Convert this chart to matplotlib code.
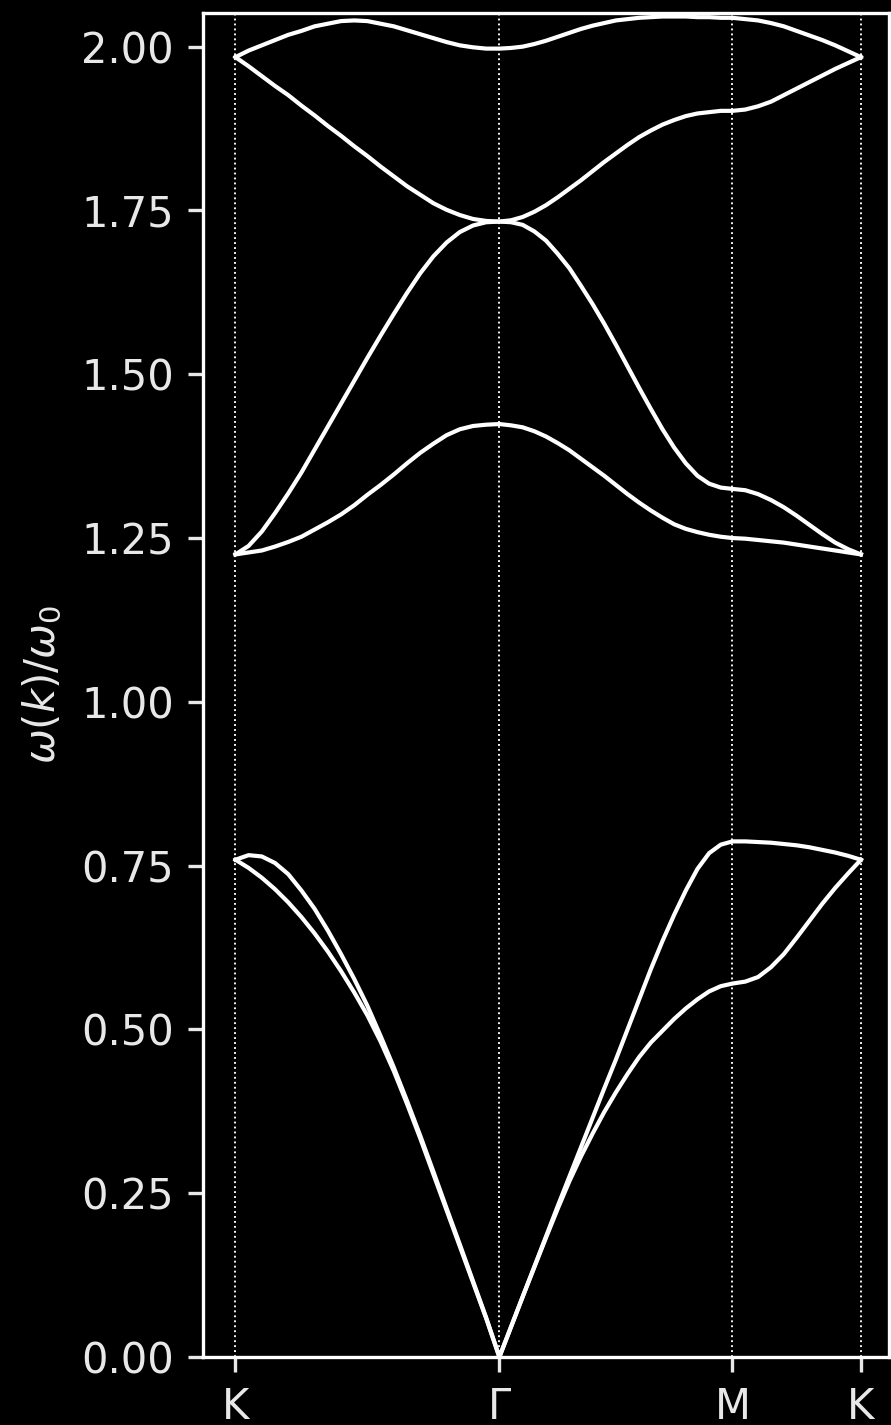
import matplotlib
matplotlib.use("Agg")
import matplotlib.pyplot as plt
import numpy as np

# high symmetry points along the path (k-path distance)
sym_labels = ["K", "Γ", "M", "K"]
sym_pos = [0.0, 1.333, 2.510, 3.159]

# sample fractions along each segment
t_kg = np.linspace(0, 1, 21)   # K -> Γ
t_gm = np.linspace(0, 1, 21)   # Γ -> M
t_mk = np.linspace(0, 1, 11)   # M -> K

# bands, sorted by energy (K->Γ, Γ->M, M->K)
band1_kg = [0.759, 0.7465, 0.7315, 0.714, 0.694, 0.6715, 0.6465, 0.619, 0.589, 0.5565, 0.5215,
            0.4815, 0.4365, 0.3865, 0.334, 0.279, 0.224, 0.169, 0.114, 0.059, 0.0]
band1_gm = [0.0, 0.046, 0.092, 0.137, 0.182, 0.226, 0.268, 0.306, 0.341, 0.374, 0.404,
            0.432, 0.458, 0.480, 0.498, 0.516, 0.532, 0.546, 0.558, 0.566, 0.570]
band1_mk = [0.570, 0.573, 0.580, 0.595, 0.615, 0.640, 0.666, 0.692, 0.716, 0.738, 0.759]

band2_kg = [0.759, 0.766, 0.764, 0.754, 0.737, 0.712, 0.684, 0.651, 0.615, 0.577, 0.536,
            0.490, 0.442, 0.391, 0.338, 0.283, 0.227, 0.172, 0.116, 0.060, 0.0]
band2_gm = [0.0, 0.046, 0.092, 0.138, 0.184, 0.230, 0.275, 0.320, 0.365, 0.410, 0.454,
            0.500, 0.546, 0.592, 0.635, 0.675, 0.712, 0.745, 0.769, 0.782, 0.787]
band2_mk = [0.787, 0.787, 0.786, 0.785, 0.783, 0.781, 0.778, 0.774, 0.770, 0.765, 0.759]

band3_kg = [1.225, 1.228, 1.231, 1.237, 1.244, 1.252, 1.263, 1.274, 1.286, 1.300, 1.316,
            1.331, 1.347, 1.364, 1.380, 1.394, 1.407, 1.416, 1.421, 1.423, 1.424]
band3_gm = [1.424, 1.422, 1.419, 1.413, 1.405, 1.395, 1.384, 1.371, 1.358, 1.345, 1.331,
            1.317, 1.304, 1.292, 1.281, 1.271, 1.264, 1.259, 1.255, 1.252, 1.250]
band3_mk = [1.250, 1.249, 1.247, 1.245, 1.243, 1.240, 1.237, 1.234, 1.231, 1.228, 1.225]

band4_kg = [1.225, 1.238, 1.260, 1.288, 1.318, 1.350, 1.385, 1.420, 1.455, 1.490, 1.525,
            1.559, 1.592, 1.624, 1.654, 1.680, 1.701, 1.717, 1.727, 1.732, 1.733]
band4_gm = [1.733, 1.732, 1.728, 1.718, 1.704, 1.684, 1.662, 1.635, 1.607, 1.577, 1.545,
            1.512, 1.479, 1.447, 1.416, 1.388, 1.364, 1.345, 1.333, 1.327, 1.325]
band4_mk = [1.325, 1.323, 1.317, 1.308, 1.297, 1.284, 1.270, 1.256, 1.243, 1.233, 1.225]

band5_kg = [1.984, 1.970, 1.955, 1.940, 1.926, 1.910, 1.895, 1.879, 1.864, 1.848, 1.833,
            1.817, 1.802, 1.787, 1.774, 1.761, 1.751, 1.743, 1.737, 1.734, 1.733]
band5_gm = [1.733, 1.735, 1.740, 1.748, 1.758, 1.770, 1.783, 1.796, 1.810, 1.824, 1.837,
            1.850, 1.862, 1.872, 1.881, 1.888, 1.894, 1.898, 1.900, 1.902, 1.902]
band5_mk = [1.902, 1.904, 1.909, 1.916, 1.926, 1.936, 1.946, 1.956, 1.966, 1.975, 1.984]

band6_kg = [1.984, 1.994, 2.002, 2.010, 2.018, 2.024, 2.031, 2.035, 2.039, 2.040, 2.039,
            2.035, 2.031, 2.025, 2.019, 2.013, 2.007, 2.002, 1.999, 1.997, 1.997]
band6_gm = [1.997, 1.998, 2.000, 2.004, 2.009, 2.015, 2.021, 2.027, 2.032, 2.036, 2.040,
            2.042, 2.044, 2.045, 2.046, 2.046, 2.046, 2.045, 2.045, 2.044, 2.044]
band6_mk = [2.044, 2.042, 2.040, 2.036, 2.031, 2.024, 2.017, 2.010, 2.002, 1.993, 1.984]

bands = [
    (band1_kg, band1_gm, band1_mk),
    (band2_kg, band2_gm, band2_mk),
    (band3_kg, band3_gm, band3_mk),
    (band4_kg, band4_gm, band4_mk),
    (band5_kg, band5_gm, band5_mk),
    (band6_kg, band6_gm, band6_mk),
]

k_kg = sym_pos[0] + t_kg * (sym_pos[1] - sym_pos[0])
k_gm = sym_pos[1] + t_gm * (sym_pos[2] - sym_pos[1])
k_mk = sym_pos[2] + t_mk * (sym_pos[3] - sym_pos[2])
k = np.concatenate([k_kg, k_gm[1:], k_mk[1:]])

plt.style.use("dark_background")
fig = plt.figure(figsize=(2.97, 4.75), dpi=300)
ax = fig.add_axes([0.2278, 0.0477, 0.77, 0.9432])

for kg, gm, mk in bands:
    w = np.concatenate([kg, gm[1:], mk[1:]])
    ax.plot(k, w, color="white", lw=1.0, solid_joinstyle="round")

for p in sym_pos:
    ax.axvline(p, color="white", ls=":", lw=0.45)

ax.set_xticks(sym_pos)
ax.set_xticklabels(sym_labels)
ax.set_yticks(np.arange(0, 2.01, 0.25))
ax.set_yticklabels(["%.2f" % v for v in np.arange(0, 2.01, 0.25)])
ax.tick_params(colors="#e8e8e8")
ax.set_xlim(-0.164, 3.301)
ax.set_ylim(0, 2.0514)
ax.set_ylabel(r"$\omega(k)/\omega_0$", color="#e8e8e8")

fig.savefig("out.png", dpi=300)
